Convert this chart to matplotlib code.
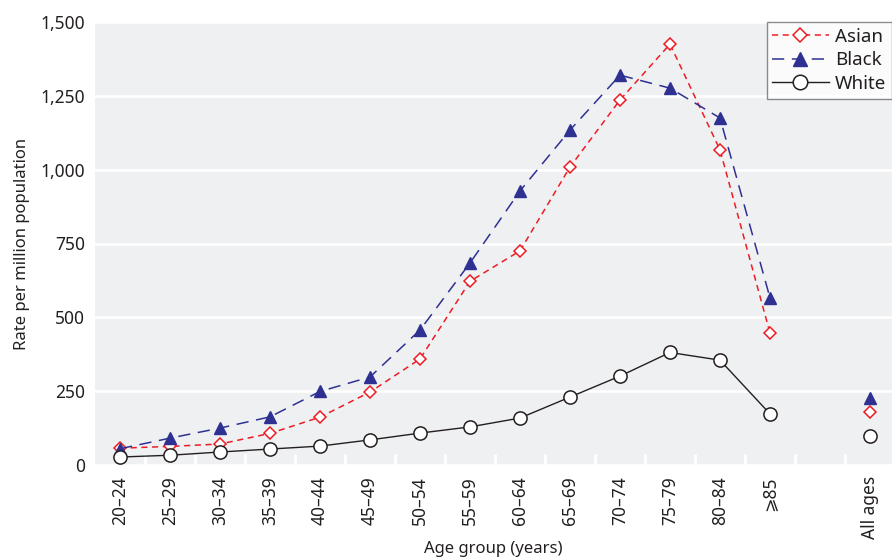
import matplotlib.pyplot as plt

plt.rcParams["font.family"] = ["Noto Sans", "DejaVu Sans"]

# age groups and rates per million
ages = ["20–24", "25–29", "30–34", "35–39", "40–44", "45–49", "50–54",
        "55–59", "60–64", "65–69", "70–74", "75–79", "80–84", "⩾85"]
asian = [57, 63, 71, 107, 162, 247, 359, 622, 725, 1009, 1236, 1425, 1067, 447]
black = [55, 91, 125, 163, 249, 298, 457, 684, 928, 1134, 1320, 1276, 1175, 566]
white = [27, 33, 44, 54, 64, 85, 108, 129, 159, 230, 301, 381, 355, 173]

# all ages combined
all_asian = 179
all_black = 227
all_white = 98

text_col = "#231f20"
red = "#ed1c24"
navy = "#2e3192"

fig = plt.figure(figsize=(8.92, 5.6), dpi=100)
ax = fig.add_axes([95 / 892, 95 / 560, 797 / 892, 443 / 560])
ax.set_facecolor("#eff0f2")

x = list(range(len(ages)))
x_all = len(ages) + 1

ax.plot(x, asian, color=red, lw=1.1, dashes=(4, 3), marker="D", ms=6.5,
        mfc="white", mec=red, mew=1.1, label="Asian", zorder=3)
ax.plot(x, black, color=navy, lw=1.1, dashes=(8, 5), marker="^", ms=9,
        mfc=navy, mec=navy, label="Black", zorder=3)
ax.plot(x, white, color=text_col, lw=1.0, marker="o", ms=9.5,
        mfc="white", mec=text_col, mew=1.1, label="White", zorder=4)

ax.plot([x_all], [all_asian], ls="none", marker="D", ms=6.5, mfc="white",
        mec=red, mew=1.1, zorder=3)
ax.plot([x_all], [all_black], ls="none", marker="^", ms=9, mfc=navy,
        mec=navy, zorder=3)
ax.plot([x_all], [all_white], ls="none", marker="o", ms=9.5, mfc="white",
        mec=text_col, mew=1.1, zorder=4)

ax.set_xlim(-0.5, 15.44)
ax.set_ylim(0, 1500)
ax.set_yticks([0, 250, 500, 750, 1000, 1250, 1500])
ax.set_yticklabels(["0", "250", "500", "750", "1,000", "1,250", "1,500"])
ax.yaxis.grid(True, color="white", lw=1.8)
ax.set_axisbelow(True)

ax.set_xticks(x + [x_all])
ax.set_xticklabels(ages + ["All ages"], rotation=90)
ax.set_xticks([i + 0.5 for i in range(15)], minor=True)
ax.tick_params(axis="x", which="major", length=0, pad=8, labelsize=12.5,
               labelcolor=text_col)
ax.tick_params(axis="x", which="minor", direction="in", length=8,
               width=2, color="white")
ax.tick_params(axis="y", length=0, pad=7, labelsize=12.5, labelcolor=text_col)

for s in ax.spines.values():
    s.set_visible(False)

ax.set_ylabel("Rate per million population", fontsize=12, color=text_col,
              labelpad=8)
ax.set_xlabel("Age group (years)", fontsize=12, color=text_col)
ax.xaxis.set_label_coords(0.5, -0.172)

leg = ax.legend(loc="upper right", fontsize=13.5, frameon=True, fancybox=False,
                borderaxespad=0, handlelength=3.0, borderpad=0.3,
                labelspacing=0.3, handletextpad=0.35, markerscale=1.1)
leg.get_frame().set_edgecolor("#6d6e71")
leg.get_frame().set_linewidth(1.0)
for t in leg.get_texts():
    t.set_color(text_col)

fig.savefig("out.png", dpi=100)
